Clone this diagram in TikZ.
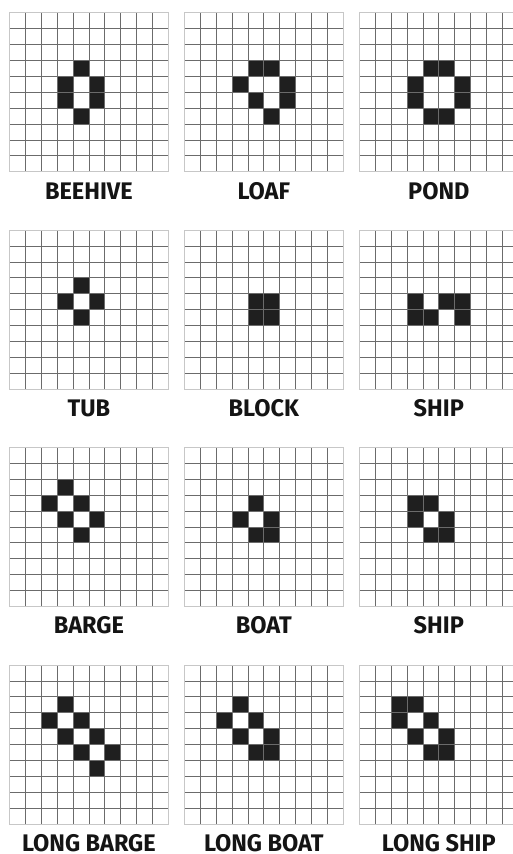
\documentclass[tikz,border=0pt]{standalone}
\usepackage{fontspec}
\newfontfamily\labfont{Fira Sans}[FakeStretch=0.98]
\def\cs{15.9}
\tikzset{
  cellfill/.style={fill=black!88},
  gridline/.style={draw=black!58,line width=0.8pt},
  gridborder/.style={draw=black!22,line width=1pt},
  labelstyle/.style={anchor=base,inner sep=0pt,font=\labfont\bfseries\fontsize{24}{26}\selectfont,text=black!92}
}
\newcommand\lifepanel[5]{%
  \begin{scope}[shift={(#2,#3)}]
    \foreach \c/\r in {#5} \fill[cellfill] (\c*\cs,\r*\cs) rectangle ++(\cs,\cs);
    \foreach \i in {1,...,9} {
      \draw[gridline] (\i*\cs,0) -- (\i*\cs,10*\cs);
      \draw[gridline] (0,\i*\cs) -- (10*\cs,\i*\cs);
    }
    \draw[gridborder] (0,0) rectangle (10*\cs,10*\cs);
    \node[labelstyle] (#1) at (5*\cs,10*\cs+27.5) {#4};
  \end{scope}}
\begin{document}
\begin{tikzpicture}[x=1pt,y=-1pt]
\useasboundingbox (0,0) rectangle (513,854);
\clip (0,0) rectangle (513,854);
\lifepanel{beehive}{9.4}{12.7}{BEEHIVE}{4/3,3/4,3/5,5/4,5/5,4/6}
\lifepanel{loaf}{184.3}{12.7}{LOAF}{4/3,5/3,3/4,6/4,6/5,4/5,5/6}
\lifepanel{pond}{359.3}{12.7}{POND}{4/3,5/3,3/4,3/5,6/4,6/5,4/6,5/6}
\lifepanel{tub}{9.4}{230.1}{TUB}{4/3,3/4,5/4,4/5}
\lifepanel{block}{184.3}{230.1}{BLOCK}{4/4,5/4,4/5,5/5}
\lifepanel{shipA}{359.3}{230.1}{SHIP}{3/4,3/5,4/5,5/4,6/4,6/5}
\lifepanel{barge}{9.4}{447.4}{BARGE}{3/2,2/3,4/3,3/4,5/4,4/5}
\lifepanel{boat}{184.3}{447.4}{BOAT}{4/3,3/4,5/4,4/5,5/5}
\lifepanel{shipB}{359.3}{447.4}{SHIP}{3/3,4/3,3/4,5/4,4/5,5/5}
\lifepanel{longbarge}{9.4}{665}{LONG BARGE}{3/2,2/3,4/3,3/4,5/4,4/5,6/5,5/6}
\lifepanel{longboat}{184.3}{665}{LONG BOAT}{3/2,2/3,4/3,3/4,5/4,4/5,5/5}
\lifepanel{longship}{359.3}{665}{LONG SHIP}{2/2,3/2,2/3,4/3,3/4,5/4,4/5,5/5}
\end{tikzpicture}
\end{document}
